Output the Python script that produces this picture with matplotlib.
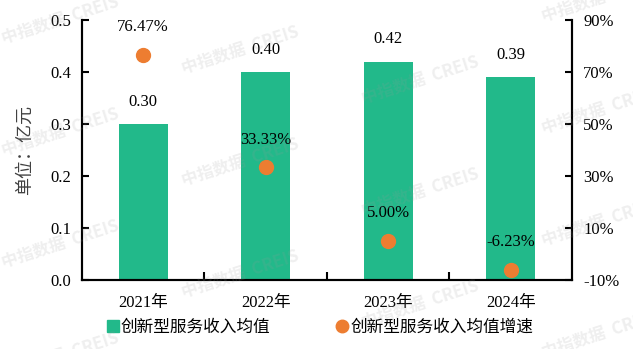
import matplotlib.pyplot as plt
from matplotlib.lines import Line2D

plt.rcParams['font.family'] = ['Liberation Serif', 'Noto Sans CJK SC']
plt.rcParams['font.size'] = 12

years = ['2021年', '2022年', '2023年', '2024年']
income_avg = [0.30, 0.40, 0.42, 0.39]          # 亿元
income_growth = [76.47, 33.33, 5.00, -6.23]    # %

bar_color = '#22B98A'
dot_color = '#ED7D31'

fig = plt.figure(figsize=(6.33, 3.49), dpi=100)
ax = fig.add_axes([0.1295, 0.1977, 0.7741, 0.745])
ax2 = ax.twinx()

x = list(range(len(years)))
ax.bar(x, income_avg, width=0.4, color=bar_color, zorder=2)
for xi, v in zip(x, income_avg):
    ax.annotate(f'{v:.2f}', (xi, v), xytext=(0, 16), textcoords='offset points',
                ha='center', va='center', fontsize=12)

ax2.plot(x, income_growth, 'o', color=dot_color, markersize=10, zorder=3)
for xi, g in zip(x, income_growth):
    ax2.annotate(f'{g:.2f}%', (xi, g), xytext=(0, 20), textcoords='offset points',
                 ha='center', va='center', fontsize=12)

ax.set_xlim(-0.5, 3.5)
ax.set_ylim(0, 0.5)
ax.set_yticks([0, 0.1, 0.2, 0.3, 0.4, 0.5])
ax.set_yticklabels([f'{t:.1f}' for t in ax.get_yticks()])
ax.set_xticks(x)
ax.set_xticklabels(years)
ax.set_xticks([0.5, 1.5, 2.5], minor=True)
ax.tick_params(axis='x', which='major', length=0, pad=11)
ax.tick_params(axis='x', which='minor', direction='in', length=6, width=1.5)
ax.tick_params(axis='y', direction='in', length=5, width=1.5, pad=8)
ax.set_ylabel('单位：亿元', fontsize=13, labelpad=12, color='#404040')

ax2.set_ylim(-10, 90)
ax2.set_yticks(range(-10, 91, 20))
ax2.set_yticklabels([f'{t}%' for t in range(-10, 91, 20)])
ax2.tick_params(axis='y', direction='in', length=5, width=1.5, pad=8)

for a in (ax, ax2):
    a.spines['top'].set_visible(False)
    for s in ('left', 'right', 'bottom'):
        a.spines[s].set_linewidth(1.5)

handles = [
    Line2D([], [], marker='s', linestyle='none', color=bar_color, markersize=8),
    Line2D([], [], marker='o', linestyle='none', color=dot_color, markersize=9),
]
fig.legend(handles, ['创新型服务收入均值', '创新型服务收入均值增速'], loc='center',
           bbox_to_anchor=(0.505, 0.06), ncol=2, frameon=False, fontsize=12,
           handletextpad=0.1, columnspacing=3.9, handlelength=0.8)

# faint watermark tiles
for i in range(4):
    for j in range(-1, 4):
        px = 60 + 180 * i
        py = 20 + 30 * i + 112 * j
        if -20 < py < 370:
            fig.text(px / 633, 1 - py / 349, '中指数据  CREIS', fontsize=12,
                     fontweight='bold', color='#9a9a9a', alpha=0.16, rotation=18,
                     ha='center', va='center', zorder=10,
                     family=['Noto Sans CJK SC', 'DejaVu Sans'])

fig.savefig('out.png', dpi=100)
